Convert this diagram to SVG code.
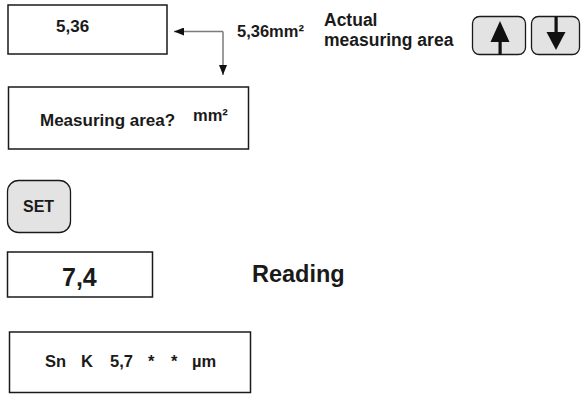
<svg xmlns="http://www.w3.org/2000/svg" width="581" height="394" viewBox="0 0 581 394">
<style>
text{font-family:"Liberation Sans",Arial,sans-serif;font-weight:bold;fill:#1a1a1a}
.box{fill:#fff;stroke:#1a1a1a;stroke-width:1.5}
.btn{fill:#e3e3e3;stroke:#1a1a1a;stroke-width:1.3}
.conn{fill:none;stroke:#7a7a7a;stroke-width:1.5}
.sym{fill:#111;stroke:none}
</style>
<defs>
<marker id="ah" viewBox="0 0 10 8" refX="10" refY="4" markerWidth="10" markerHeight="8" markerUnits="userSpaceOnUse" orient="auto">
<path d="M0,0 L10,4 L0,8 Z" fill="#111"/>
</marker>
</defs>
<rect width="581" height="394" fill="#fff"/>
<g id="display-536">
<rect class="box" x="8" y="5" width="159" height="49"/>
<text x="56" y="32" font-size="17">5,36</text>
</g>
<g id="label-536mm">
<text x="237" y="37" font-size="16.5">5,36mm²</text>
</g>
<g id="label-actual">
<text x="324" y="26" font-size="17.5">Actual</text>
<text x="324" y="46" font-size="17.5">measuring area</text>
</g>
<g id="btn-up">
<rect class="btn" x="472.5" y="16.5" width="53" height="38" rx="7"/>
<rect class="sym" x="498.5" y="38" width="3.2" height="17"/>
<path class="sym" d="M500,21 L509.5,42 L490.5,42 Z"/>
</g>
<g id="btn-down">
<rect class="btn" x="531.5" y="16.5" width="48" height="38" rx="7"/>
<rect class="sym" x="554.5" y="16.5" width="3.2" height="18"/>
<path class="sym" d="M556,50 L565.5,32 L546.5,32 Z"/>
</g>
<g id="display-measuring-area">
<rect class="box" x="8.5" y="87" width="240" height="62"/>
<text x="40" y="126" font-size="17">Measuring area?</text>
<text x="193" y="121" font-size="16.5">mm²</text>
</g>
<g id="btn-set">
<rect class="btn" x="7.5" y="180.5" width="63" height="52" rx="11"/>
<text x="23" y="212" font-size="16">SET</text>
</g>
<g id="display-74">
<rect class="box" x="7.5" y="252" width="145" height="45"/>
<text x="62" y="286" font-size="25">7,4</text>
</g>
<g id="label-reading">
<text x="252" y="282" font-size="23.5">Reading</text>
</g>
<g id="display-reading">
<rect class="box" x="9.5" y="332" width="241" height="60.5"/>
<text y="367" font-size="16.5"><tspan x="45">Sn</tspan><tspan x="81">K</tspan><tspan x="110">5,7</tspan><tspan x="148">*</tspan><tspan x="171">*</tspan><tspan x="192">µm</tspan></text>
</g>
<g id="connectors">
<path class="conn" d="M223,31.5 H174" marker-end="url(#ah)"/>
<path class="conn" d="M223,31.5 V75" marker-end="url(#ah)"/>
</g>
</svg>
